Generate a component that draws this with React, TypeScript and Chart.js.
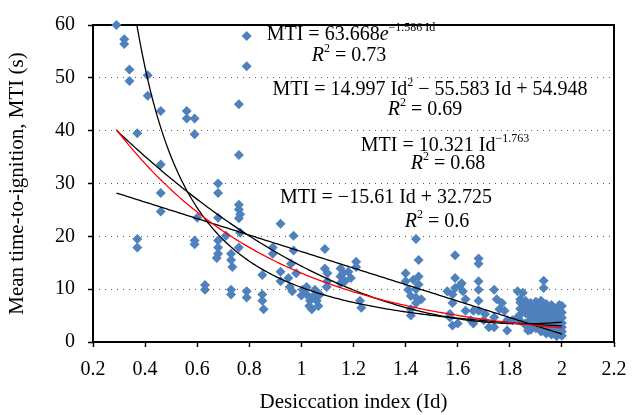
import React, { useEffect, useRef } from "react";
import { Chart, registerables } from "chart.js";

Chart.register(...registerables);

// ---- Data (Desiccation index Id, Mean time-to-ignition MTI in s) ----
const highPoints: [number, number][] = [
  [0.29, 60], [0.32, 57.3], [0.32, 56.4], [0.34, 51.6], [0.34, 49.4], [0.41, 50.5], [0.41, 46.6],
  [0.46, 43.7], [0.56, 43.7], [0.56, 42.3], [0.59, 42.3], [0.59, 39.3], [0.37, 39.5], [0.46, 33.6],
  [0.68, 30], [0.68, 28.2], [0.76, 45], [0.76, 35.4], [0.79, 57.9], [0.79, 52.2],
];

const earlyPoints: [number, number][] = [
  [0.37, 19.5], [0.37, 17.9], [0.46, 28.2], [0.46, 24.7], [0.6, 23.5], [0.59, 19.2], [0.59, 18.5],
  [0.63, 10.8], [0.63, 9.9], [0.68, 23.5], [0.68, 19.2], [0.68, 17.9], [0.68, 16.7], [0.675, 15.9],
  [0.71, 20.1], [0.73, 16.7], [0.73, 15.5], [0.735, 14.2], [0.73, 9.9], [0.73, 9.0],
  [0.76, 26.0], [0.76, 25.1], [0.765, 24.2], [0.76, 23.4], [0.765, 20.7], [0.76, 17.9],
  [0.79, 9.6], [0.79, 8.4],
];

const midPoints: [number, number][] = [
  [0.85, 9.0], [0.85, 7.8], [0.855, 6.2], [0.85, 12.7], [0.89, 17.9], [0.89, 16.7], [0.92, 22.4],
  [0.92, 13.3], [0.92, 11.5], [0.97, 20.1], [0.97, 17.3], [0.96, 14.8], [0.95, 12.1], [0.955, 10.4],
  [0.965, 9.6], [0.98, 13.0], [1.005, 9.9], [1.02, 9.0], [1.033, 7.8], [1.04, 6.2], [1.052, 9.9],
  [1.059, 7.8], [1.071, 9.0], [1.03, 6.8], [1.065, 6.8], [1.0, 8.8], [1.045, 8.6], [1.02, 10.4],
  [1.09, 17.6], [1.09, 13.9], [1.1, 13.0], [1.1, 11.5], [1.097, 10.4], [1.15, 13.9], [1.15, 12.4],
  [1.15, 11.1], [1.167, 11.5], [1.16, 13.0], [1.18, 13.3], [1.19, 12.1], [1.21, 15.2], [1.21, 14.2],
  [1.225, 7.8], [1.23, 6.5],
];

const lateMidPoints: [number, number][] = [
  [1.44, 19.5], [1.45, 15.5], [1.45, 12.4], [1.45, 10.9], [1.4, 13.0], [1.4, 11.5], [1.41, 9.9],
  [1.42, 8.7], [1.42, 6.2], [1.42, 5.0], [1.44, 8.4], [1.44, 7.4], [1.46, 8.1], [1.43, 11.8],
  [1.44, 10.0], [1.56, 9.6], [1.57, 5.3], [1.57, 4.7],
];

const rightPoints: [number, number][] = [
  [1.59, 16.4], [1.68, 15.8], [1.68, 14.8], [1.59, 12.1], [1.59, 10.2], [1.58, 9.0], [1.58, 7.4],
  [1.61, 10.8], [1.615, 11.1], [1.62, 9.6], [1.63, 8.1], [1.63, 5.9], [1.6, 3.5], [1.58, 3.1],
  [1.66, 5.9], [1.66, 3.5], [1.65, 4.1], [1.68, 11.5], [1.68, 9.9], [1.68, 7.8], [1.68, 5.9],
  [1.7, 4.1], [1.705, 5.3], [1.72, 2.8], [1.74, 9.9], [1.75, 8.1], [1.76, 6.2], [1.74, 4.7],
  [1.74, 2.8], [1.77, 7.4], [1.78, 5.9], [1.79, 4.1], [1.79, 2.2], [1.81, 4.1], [1.83, 9.6],
  [1.84, 8.1], [1.85, 5.9], [1.83, 4.7], [1.86, 3.5], [1.87, 6.5], [1.88, 4.7], [1.87, 2.2],
  [1.89, 6.5], [1.85, 9.3], [1.93, 11.6], [1.93, 10.2], [1.99, 7.0],
];

const dryPoints: [number, number][] = [
  [1.84, 7.5], [1.84, 6.3], [1.84, 5.2], [1.84, 4.0],
  [1.86, 7.8], [1.86, 6.8], [1.86, 5.5], [1.86, 3.2],
  [1.88, 7.4], [1.88, 6.0], [1.88, 4.2], [1.88, 3.0], [1.88, 2.3],
  [1.9, 7.6], [1.9, 6.5], [1.9, 5.4], [1.9, 4.4], [1.9, 3.4], [1.9, 2.6],
  [1.92, 7.8], [1.92, 6.9], [1.92, 5.8], [1.92, 4.8], [1.92, 3.8], [1.92, 2.9], [1.92, 2.0],
  [1.94, 7.2], [1.94, 6.3], [1.94, 5.2], [1.94, 4.2], [1.94, 3.3], [1.94, 2.4], [1.94, 1.6],
  [1.96, 7.0], [1.96, 6.0], [1.96, 5.0], [1.96, 4.0], [1.96, 3.0], [1.96, 2.2], [1.96, 1.4],
  [1.98, 6.3], [1.98, 5.3], [1.98, 4.3], [1.98, 3.4], [1.98, 2.6], [1.98, 1.8], [1.98, 1.1],
  [2.0, 6.8], [2.0, 5.6], [2.0, 4.6], [2.0, 3.6], [2.0, 2.8], [2.0, 2.0], [2.0, 1.2],
];

// Trendline coefficients as printed on the chart
const expCoef = [63.668, -1.586]; // MTI = a e^(b Id)
const quadCoef = [14.997, -55.583, 54.948]; // MTI = a Id^2 + b Id + c
const powCoef = [10.321, -1.763]; // MTI = a Id^b
const linCoef = [-15.61, 32.725]; // MTI = a Id + b
const trendRange = [0.29, 2.0];

const xTickValues = [0.2, 0.4, 0.6, 0.8, 1, 1.2, 1.4, 1.6, 1.8, 2, 2.2];
const xTickLabels = ["0.2", "0.4", "0.6", "0.8", "1", "1.2", "1.4", "1.6", "1.8", "2", "2.2"];
const yTickValues = [0, 10, 20, 30, 40, 50, 60];

const FONT = '"Liberation Serif", "Times New Roman", serif';

type Seg = { t: string; it?: boolean; sup?: boolean };
const annotations: { cx: number; cy: number; segs: Seg[] }[] = [
  { cx: 351, cy: 33, segs: [{ t: "MTI = 63.668" }, { t: "e", it: true }, { t: "−1.586 Id", sup: true }] },
  { cx: 349, cy: 54, segs: [{ t: "R", it: true }, { t: "2", sup: true }, { t: " = 0.73" }] },
  { cx: 430, cy: 88, segs: [{ t: "MTI = 14.997 Id" }, { t: "2", sup: true }, { t: " − 55.583 Id + 54.948" }] },
  { cx: 425, cy: 108, segs: [{ t: "R", it: true }, { t: "2", sup: true }, { t: " = 0.69" }] },
  { cx: 445, cy: 144, segs: [{ t: "MTI = 10.321 Id" }, { t: "−1.763", sup: true }] },
  { cx: 448, cy: 162, segs: [{ t: "R", it: true }, { t: "2", sup: true }, { t: " = 0.68" }] },
  { cx: 386, cy: 196, segs: [{ t: "MTI = −15.61 Id + 32.725" }] },
  { cx: 437, cy: 220, segs: [{ t: "R", it: true }, { t: "2", sup: true }, { t: " = 0.6" }] },
];

function sampleCurve(f: (x: number) => number) {
  const pts: { x: number; y: number }[] = [];
  const n = 171;
  for (let i = 0; i <= n; i++) {
    const x = trendRange[0] + ((trendRange[1] - trendRange[0]) * i) / n;
    pts.push({ x, y: f(x) });
  }
  return pts;
}

function drawRich(ctx: CanvasRenderingContext2D, segs: Seg[], cx: number, cy: number, size: number) {
  const fontFor = (s: Seg) => `${s.it ? "italic " : ""}${s.sup ? Math.round(size * 0.62) : size}px ${FONT}`;
  let total = 0;
  const widths = segs.map((s) => {
    ctx.font = fontFor(s);
    const w = ctx.measureText(s.t).width;
    total += w;
    return w;
  });
  let x = cx - total / 2;
  const base = cy + size * 0.33;
  ctx.textBaseline = "alphabetic";
  ctx.textAlign = "left";
  segs.forEach((s, i) => {
    ctx.font = fontFor(s);
    ctx.fillText(s.t, x, s.sup ? base - size * 0.42 : base);
    x += widths[i];
  });
}

const framePlugin = {
  id: "frame",
  beforeDatasetsDraw(chart: any) {
    const { ctx, chartArea: a } = chart;
    ctx.save();
    ctx.setLineDash([]);
    ctx.strokeStyle = "#000";
    ctx.lineWidth = 2;
    ctx.strokeRect(a.left, a.top, a.right - a.left, a.bottom - a.top);
    ctx.restore();
  },
  afterDraw(chart: any) {
    const { ctx } = chart;
    ctx.save();
    ctx.fillStyle = "#000";
    annotations.forEach((a) => drawRich(ctx, a.segs, a.cx, a.cy, 20));
    ctx.restore();
  },
};

export default function App() {
  const ref = useRef<HTMLCanvasElement | null>(null);

  useEffect(() => {
    if (!ref.current) return;
    const allPoints = [...highPoints, ...earlyPoints, ...midPoints, ...lateMidPoints, ...rightPoints, ...dryPoints];
    const lineDs = (data: any, color: string, order: number) => ({
      data,
      showLine: true,
      borderColor: color,
      borderWidth: 1.3,
      pointRadius: 0,
      tension: 0,
      fill: false,
      order,
    });
    const chart = new Chart(ref.current, {
      type: "scatter",
      data: {
        datasets: [
          {
            data: allPoints.map(([x, y]) => ({ x, y })),
            pointStyle: "rectRot",
            pointRadius: 5,
            backgroundColor: "#4F81BD",
            borderWidth: 0,
            clip: false,
            order: 10,
          } as any,
          lineDs(sampleCurve((x) => linCoef[0] * x + linCoef[1]), "#000", 4),
          lineDs(sampleCurve((x) => powCoef[0] * Math.pow(x, powCoef[1])), "#000", 3),
          lineDs(sampleCurve((x) => quadCoef[0] * x * x + quadCoef[1] * x + quadCoef[2]), "#000", 2),
          lineDs(sampleCurve((x) => expCoef[0] * Math.exp(expCoef[1] * x)), "#FF0000", 1),
        ],
      },
      options: {
        responsive: false,
        animation: false,
        events: [],
        layout: { padding: { left: 0, right: 26, top: 17.5, bottom: 0 } },
        plugins: { legend: { display: false }, tooltip: { enabled: false } },
        scales: {
          x: {
            type: "linear",
            min: 0.2,
            max: 2.2,
            afterBuildTicks: (s: any) => {
              s.ticks = xTickValues.map((v) => ({ value: v }));
            },
            afterFit: (s: any) => {
              s.height = 73;
            },
            ticks: {
              callback: (_v: any, i: number) => xTickLabels[i],
              font: { family: FONT, size: 20 },
              color: "#000",
              padding: 11,
              maxRotation: 0,
            },
            grid: { drawOnChartArea: false, drawTicks: true, tickLength: 5, tickColor: "#000", tickWidth: 1.5 },
            border: { display: false },
            title: {
              display: true,
              text: "Desiccation index (Id)",
              font: { family: FONT, size: 21 },
              color: "#000",
              padding: { top: 0, bottom: 0 },
            },
          },
          y: {
            type: "linear",
            min: 0,
            max: 60,
            afterBuildTicks: (s: any) => {
              s.ticks = yTickValues.map((v) => ({ value: v }));
            },
            afterFit: (s: any) => {
              s.width = 93;
            },
            ticks: {
              font: { family: FONT, size: 20 },
              color: "#000",
              padding: 13,
            },
            grid: {
              color: (c: any) =>
                c.tick && (c.tick.value === 0 || c.tick.value === 60) ? "rgba(0,0,0,0)" : "#555",
              lineWidth: 1,
              tickLength: 5,
              tickColor: "#000",
              tickWidth: 1.5,
            },
            border: { display: false, dash: [1, 5] },
            title: {
              display: true,
              text: "Mean time-to-ignition, MTI (s)",
              font: { family: FONT, size: 21 },
              color: "#000",
              padding: { top: 5, bottom: 0 },
            },
          },
        },
      },
      plugins: [framePlugin],
    });
    return () => chart.destroy();
  }, []);

  return (
    <div style={{ position: "fixed", left: 0, top: 0, width: 640, height: 415, background: "#fff" }}>
      <canvas ref={ref} width={640} height={415} style={{ width: 640, height: 415 }} />
    </div>
  );
}
